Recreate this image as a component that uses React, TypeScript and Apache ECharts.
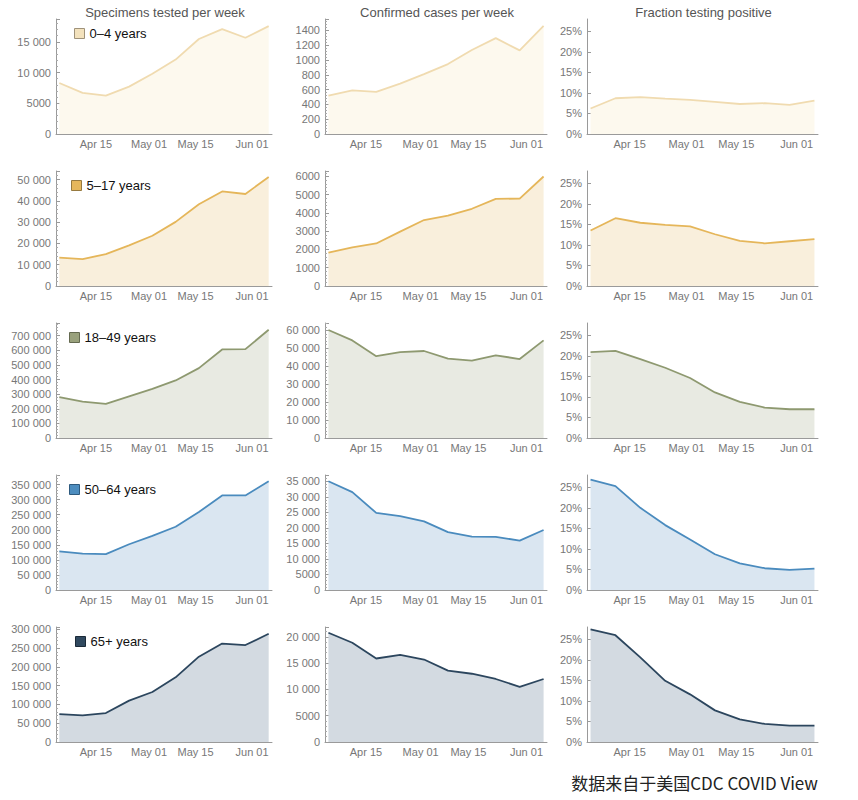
import React, { useEffect, useRef } from "react";
import * as echarts from "echarts";

// ---------- data ----------
const weekEnding = [
  "2020-04-04", "2020-04-11", "2020-04-18", "2020-04-25", "2020-05-02",
  "2020-05-09", "2020-05-16", "2020-05-23", "2020-05-30", "2020-06-06",
];
const xRangeStart = "2020-04-03";
const xRangeEnd = "2020-06-07";
const xTickDates = ["2020-04-15", "2020-05-01", "2020-05-15", "2020-06-01"];
const xTickLabels = ["Apr 15", "May 01", "May 15", "Jun 01"];

const columnTitles = ["Specimens tested per week", "Confirmed cases per week", "Fraction testing positive"];
const ageGroups = ["0–4 years", "5–17 years", "18–49 years", "50–64 years", "65+ years"];

const specimens0to4 = [8300, 6700, 6250, 7700, 9800, 12100, 15450, 17050, 15650, 17550];
const cases0to4 = [520, 590, 570, 680, 810, 945, 1135, 1295, 1130, 1460];
const positive0to4 = [6.2, 8.7, 9.0, 8.6, 8.3, 7.8, 7.3, 7.5, 7.1, 8.1];

const specimens5to17 = [13300, 12600, 15000, 19100, 23600, 30100, 38400, 44400, 43200, 51200];
const cases5to17 = [1830, 2115, 2330, 2980, 3615, 3850, 4230, 4770, 4790, 6000];
const positive5to17 = [13.5, 16.5, 15.4, 14.9, 14.5, 12.6, 11.0, 10.4, 10.9, 11.4];

const specimens18to49 = [280000, 249000, 234000, 285000, 336000, 394000, 478000, 606000, 608000, 741000];
const cases18to49 = [60200, 54400, 45600, 47900, 48500, 44200, 43100, 46100, 44000, 54400];
const positive18to49 = [20.9, 21.2, 19.2, 17.1, 14.6, 11.1, 8.8, 7.4, 7.0, 7.0];

const specimens50to64 = [128000, 121000, 119000, 152000, 180000, 210000, 259000, 314000, 314000, 361000];
const cases50to64 = [35000, 31500, 24800, 23800, 22100, 18600, 17200, 17100, 15900, 19300];
const positive50to64 = [26.9, 25.3, 20.0, 15.8, 12.3, 8.7, 6.5, 5.3, 4.9, 5.2];

const specimens65plus = [74000, 71000, 77000, 110000, 133000, 172000, 227000, 262000, 258000, 288000];
const cases65plus = [20800, 18900, 15900, 16600, 15700, 13600, 13000, 12000, 10500, 12000];
const positive65plus = [27.4, 26.0, 20.6, 14.9, 11.6, 7.7, 5.5, 4.4, 4.0, 4.0];

// axis ranges per row
const specimensMax = [18700, 54000, 787000, 382000, 306000];
const specimensStep = [5000, 10000, 100000, 50000, 50000];
const casesMax = [1554, 6300, 64100, 37000, 21900];
const casesStep = [200, 1000, 10000, 5000, 5000];
const positiveMax = 28;
const positiveStep = 5;

const footnote = "数据来自于美国CDC COVID View";

// ---------- styles ----------
const rowLine = ["#f0dbb0", "#e5b65a", "#8e9970", "#4a8bbe", "#2c465e"];
const rowFill = ["#fdf9ee", "#f9efdc", "#e8eae2", "#dae6f1", "#d3dae1"];
const swatchFill = ["#f3e2bd", "#e6b75c", "#99a17c", "#4d8dbf", "#30495f"];
const swatchBorder = ["#9f927a", "#977a40", "#646a50", "#2e5a7e", "#1b2a38"];
const legendLeft = [74, 71, 69, 69, 75];

const FONT = "'Liberation Sans', Arial, sans-serif";
const colLeft = [56, 325, 587];
const colWidth = [216, 222, 231];
const rowTop = (r: number) => 19 + 152 * r;
const plotHeight = 115;

const toMs = (s: string) => Date.parse(s + "T00:00:00Z");

function fmtNum(v: number): string {
  const s = String(Math.round(v));
  if (s.length <= 4) return s;
  return s.replace(/\B(?=(\d{3})+(?!\d))/g, " ");
}

export default function App() {
  const ref = useRef<HTMLDivElement>(null);

  useEffect(() => {
    if (!ref.current) return;
    const chart = echarts.init(ref.current, undefined, { renderer: "svg" });

    const xs = weekEnding.map(toMs);
    const tickMs = xTickDates.map(toMs);
    const rows = [
      [specimens0to4, cases0to4, positive0to4],
      [specimens5to17, cases5to17, positive5to17],
      [specimens18to49, cases18to49, positive18to49],
      [specimens50to64, cases50to64, positive50to64],
      [specimens65plus, cases65plus, positive65plus],
    ];

    const grids: any[] = [];
    const xAxes: any[] = [];
    const yAxes: any[] = [];
    const series: any[] = [];
    const legends: any[] = [];

    rows.forEach((cols, r) => {
      cols.forEach((vals, c) => {
        const idx = grids.length;
        grids.push({
          left: colLeft[c],
          top: rowTop(r),
          width: colWidth[c],
          height: plotHeight,
          containLabel: false,
        });
        xAxes.push({
          type: "value",
          gridIndex: idx,
          min: toMs(xRangeStart),
          max: toMs(xRangeEnd),
          axisLine: { show: true, onZero: false, lineStyle: { color: "#9a9a9a", width: 1 } },
          axisTick: { show: true, inside: true, length: 4, customValues: tickMs, lineStyle: { color: "#9a9a9a" } },
          axisLabel: {
            customValues: tickMs,
            color: "#777",
            fontSize: 11,
            fontFamily: FONT,
            margin: 4,
            formatter: (v: number) => {
              const i = tickMs.indexOf(v);
              return i >= 0 ? xTickLabels[i] : "";
            },
          },
          splitLine: { show: false },
        });
        const isPct = c === 2;
        const yMax = isPct ? positiveMax : c === 0 ? specimensMax[r] : casesMax[r];
        const yStep = isPct ? positiveStep : c === 0 ? specimensStep[r] : casesStep[r];
        yAxes.push({
          type: "value",
          gridIndex: idx,
          min: 0,
          max: yMax,
          interval: yStep,
          axisLine: { show: true, lineStyle: { color: "#9a9a9a", width: 1 } },
          axisTick: { show: true, inside: true, length: 4, lineStyle: { color: "#9a9a9a" } },
          minorTick: isPct
            ? { show: false }
            : { show: true, splitNumber: 5, length: 2, lineStyle: { color: "#aaa" } },
          axisLabel: {
            color: "#777",
            fontSize: 11,
            fontFamily: FONT,
            margin: 5,
            showMaxLabel: false,
            formatter: (v: number) => (isPct ? `${Math.round(v)}%` : fmtNum(v)),
          },
          splitLine: { show: false },
        });
        const name = c === 0 ? ageGroups[r] : `${ageGroups[r]} ${columnTitles[c]}`;
        series.push({
          type: "line",
          name,
          xAxisIndex: idx,
          yAxisIndex: idx,
          data: xs.map((x, i) => [x, vals[i]]),
          showSymbol: false,
          symbol: "none",
          lineStyle: { color: rowLine[r], width: 1.8 },
          itemStyle: { color: rowLine[r] },
          areaStyle: { color: rowFill[r], opacity: 1 },
          silent: true,
        });
      });
      legends.push({
        show: true,
        data: [
          {
            name: ageGroups[r],
            icon: "rect",
            itemStyle: { color: swatchFill[r], borderColor: swatchBorder[r], borderWidth: 1 },
          },
        ],
        left: legendLeft[r],
        top: 27 + 152 * r,
        padding: 0,
        itemWidth: 10,
        itemHeight: 10,
        selectedMode: false,
        textStyle: { fontSize: 13, color: "#111", fontFamily: FONT },
      });
    });

    const graphics: any[] = columnTitles.map((t, c) => ({
      type: "text",
      x: colLeft[c] + colWidth[c] / 2 + 1,
      y: 12,
      style: {
        text: t,
        fontSize: 13,
        fontFamily: FONT,
        fill: "#555",
        align: "center",
        verticalAlign: "middle",
      },
    }));
    graphics.push({
      type: "text",
      x: 818,
      y: 782,
      style: {
        text: footnote,
        fontSize: 17,
        fontFamily: "'Noto Sans CJK SC', sans-serif",
        fill: "#222",
        align: "right",
        verticalAlign: "middle",
      },
    });

    chart.setOption({
      animation: false,
      backgroundColor: "#ffffff",
      textStyle: { fontFamily: FONT },
      grid: grids,
      xAxis: xAxes,
      yAxis: yAxes,
      series,
      legend: legends,
      graphic: graphics,
    });

    return () => chart.dispose();
  }, []);

  return (
    <div
      ref={ref}
      style={{ position: "fixed", left: 0, top: 0, width: 858, height: 800, background: "#fff" }}
    />
  );
}
